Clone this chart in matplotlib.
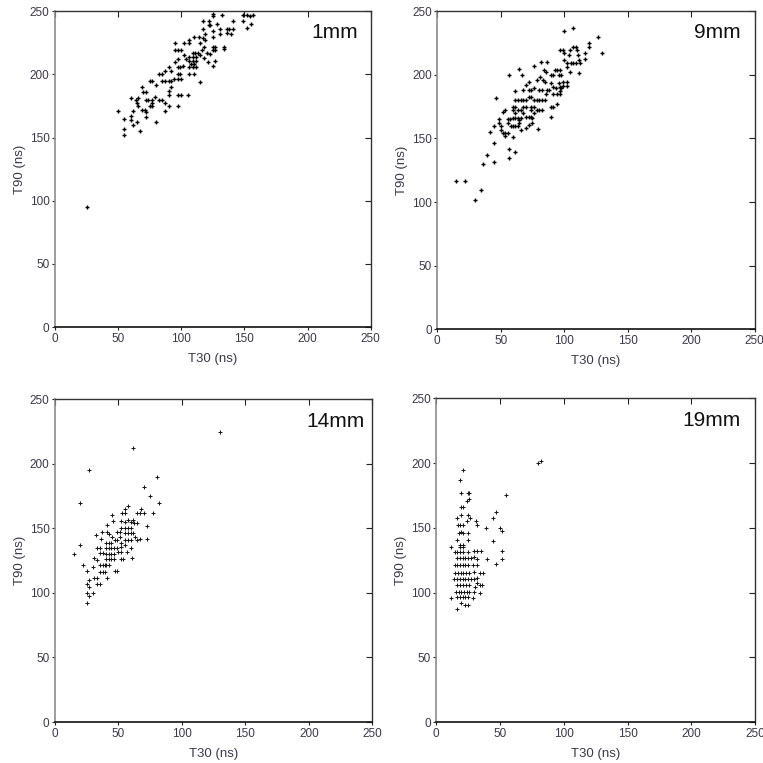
import matplotlib
matplotlib.use("Agg")
import matplotlib.pyplot as plt

plt.rcParams['font.family'] = ['Liberation Sans', 'DejaVu Sans']

# ---- T30 / T90 pulse-timing pairs (ns) for each depth ----
t30_1mm = [25, 50, 55, 55, 55, 60, 60, 60, 62, 62, 64, 66, 65, 65, 66, 67, 69, 70, 72,
           69, 71, 72, 72, 72, 74, 77, 75, 77, 77, 75, 77, 80, 80, 79, 82, 85, 87, 87, 90,
           82, 85, 85, 87, 90, 92, 87, 90, 92, 90, 90, 92, 94, 95, 97, 95, 95, 97, 100,
           97, 99, 97, 99, 97, 100, 97, 100, 105, 97, 101, 102, 102, 106, 106, 106, 109,
           112, 115, 106, 109, 112, 106, 109, 112, 106, 110, 109, 111, 110, 115, 116, 118,
           115, 117, 119, 117, 117, 120, 122, 121, 122, 123, 125, 125, 125, 125, 125, 125,
           127, 127, 125, 127, 128, 131, 131, 132, 134, 134, 136, 138, 141, 136, 139, 141,
           149, 152, 154, 157, 149, 152, 155, 108, 110, 113, 104, 119, 114, 118, 123]
t90_1mm = [95, 171, 165, 157, 152, 181, 167, 164, 171, 160, 180, 181, 162, 177, 175, 155, 190,
           186, 186, 172, 172, 170, 166, 180, 180, 180, 175, 177, 175, 195, 195, 192, 162, 182,
           180, 180, 177, 171, 175, 200, 200, 195, 195, 195, 195, 203, 206, 203, 187, 184,
           190, 196, 210, 212, 225, 219, 219, 219, 206, 206, 200, 200, 196, 196, 184, 184,
           184, 175, 207, 225, 215, 227, 225, 214, 214, 214, 215, 211, 211, 211, 206, 206,
           206, 200, 200, 217, 217, 230, 225, 219, 222, 194, 229, 232, 242, 236, 217, 242,
           210, 239, 239, 248, 246, 234, 230, 222, 219, 222, 219, 207, 211, 240, 236, 232,
           247, 220, 222, 236, 236, 236, 233, 232, 242, 247, 247, 246, 247, 242, 237, 240,
           208, 208, 217, 212, 227, 230, 213, 216]

t30_9mm = [14.7, 21.8, 29.7, 34.7, 36.2, 39.4, 41.5, 44.4, 44.4, 44.4, 46.2, 48.8, 48.8, 50,
           49.9, 51.5, 53.6, 55.4, 53.6, 51.5, 53.6, 56.2, 56.5, 56.5, 55.4, 57.2, 55.4, 58,
           59.3, 61.4, 59.3, 61.4, 59.3, 61.4, 63.5, 65.6, 59.3, 61.4, 63.5, 59.9, 61.2, 63.3,
           61.4, 61.4, 64.6, 64.6, 64.6, 63.5, 65.6, 65.6, 67.8, 69.9, 65.6, 66.7, 67.8, 67.8,
           69.9, 67.8, 69.9, 72, 74, 69.9, 69.9, 72, 72, 74, 76.2, 72, 74, 76.2, 78.3, 72, 74,
           76.2, 74, 76.2, 74.6, 75, 76.2, 79.6, 78.3, 80.9, 79.8, 82.5, 80.4, 82.5, 84.6, 78.3,
           80.4, 82.5, 81.4, 86.1, 83.5, 85, 84, 86, 85.6, 86.1, 88.2, 89.3, 89.3, 91.4, 89.3,
           91.4, 89.8, 91.4, 93.5, 91.4, 94, 96.6, 92.4, 94.5, 96.6, 94, 95.6, 97.7, 95.6,
           96.6, 96.6, 97.7, 96.6, 99.3, 98.7, 98.7, 101.9, 101.9, 99.8, 99.8, 99.8, 101.9,
           101.9, 104.5, 103.5, 104.5, 107, 109.6, 106.6, 105, 107, 109.2, 109.8, 111, 111.3,
           112.4, 111.3, 116, 116.6, 119.2, 119.2, 126.6, 129.7]
t90_9mm = [116.6, 116.6, 101.7, 109.5, 129.7, 136.8, 154.9, 159.8, 146.8, 131.8, 181.9, 165,
           162.5, 160, 156.7, 154.6, 154.6, 154.6, 152, 171, 172.4, 200, 141.8, 134.4, 165, 165,
           162.5, 160, 174.5, 174.5, 172.4, 170, 166.4, 166.4, 166.4, 166.4, 160, 160, 160,
           151.5, 180.3, 180.3, 139.7, 187.6, 204.7, 164.6, 162.5, 172.4, 172.4, 180.3, 180.3,
           180.3, 156.7, 199.7, 188.2, 175, 175, 169.8, 167.2, 167.2, 167.2, 192, 158, 194.7,
           188, 188, 190, 182.9, 182.9, 180.3, 180.3, 160.6, 175, 175, 172.4, 170, 162.5, 166,
           207, 157.2, 196, 198.6, 188.2, 188.2, 180.3, 180.3, 180.3, 172.4, 172.4, 172.4, 210,
           210, 196, 194.7, 204, 202.6, 185, 188.2, 188.2, 167.2, 175, 175, 200, 200, 193.4,
           190.8, 189.5, 185, 185, 185, 203.9, 203.9, 203.9, 177.1, 200, 200, 193.4, 190.8,
           187.6, 189.5, 219.6, 219.6, 194.7, 191.6, 194.7, 191.6, 234.8, 217.5, 211.7, 209.6,
           206.5, 202.6, 215.7, 219.6, 222.2, 222.2, 236.6, 209.6, 209.6, 209.6, 219.6, 215.7,
           211.7, 209.6, 201.3, 217, 212.3, 224.8, 222.2, 230, 217]

t30_14mm = [15, 19.7, 19.7, 22.3, 25.5, 25, 27, 25, 27, 25, 27, 27, 30.2, 30.2, 30.7, 32.8,
            31, 33.3, 32.3, 32.8, 35.4, 33.3, 35.4, 35.4, 37.5, 35.4, 37.5, 39.6, 35.4, 37.5,
            39.6, 36.5, 37, 40.7, 40.2, 42.3, 44.4, 40.2, 42.3, 44.4, 46.5, 48.6, 40.2, 42.3,
            44.4, 46.5, 40.2, 42.3, 44.4, 46.5, 40.2, 42.3, 40.7, 42.3, 40.7, 44.9, 45.4, 44.9,
            47, 49.1, 51.2, 47.3, 49.1, 49.1, 51.2, 49.9, 51.7, 51.7, 51.7, 51.7, 51.7, 51.7,
            53.8, 52.8, 55.4, 55.4, 55.4, 57.5, 59.6, 61.7, 55.4, 57.5, 59.6, 55.4, 57.5, 59.6,
            61.7, 55.4, 57.5, 59.6, 55.4, 56.5, 57.5, 59.6, 60.4, 62.2, 64.3, 63, 64.9, 67,
            64.9, 67, 67.5, 70, 70.1, 72.2, 72.2, 74.8, 77, 80, 82.2, 61.7, 130]
t90_14mm = [130, 170, 137, 122, 117, 106.7, 105, 99.7, 98, 92, 195, 110, 120, 99.7, 126.8,
            125.5, 111.8, 111.8, 145, 106.7, 106.7, 135, 135, 130.7, 130.7, 121.6, 121.6, 121.6,
            116.5, 116.5, 116.5, 141.8, 147, 111.3, 138.4, 138.4, 138.4, 134.6, 134.6, 134.6,
            134.6, 134.6, 130, 130, 130, 130, 126.3, 126.3, 126.3, 126.3, 121.6, 121.6, 147,
            146, 152.6, 160.4, 155.7, 143.6, 141, 141, 143.6, 117, 117, 147, 147, 132, 132,
            138.4, 135.8, 155.7, 150, 126.3, 126.3, 162.2, 165, 162.2, 155.2, 156.5, 155.2,
            156.5, 150, 150, 150, 146.2, 146.2, 146.2, 146.2, 141, 141, 141, 137.1, 132, 167.4,
            135, 127.3, 154, 154, 143.6, 141, 141.8, 162.2, 162.2, 165, 162.2, 181.8, 152,
            141.8, 175, 162.2, 190, 170, 212, 225]

t30_19mm = [11.2, 11.2, 16.5, 16.5, 18.5, 20.6, 19.6, 24.8, 25.9, 24.3, 25.9, 19.1, 20.6, 19.6,
            24.8, 26.4, 17, 18.5, 20.6, 24.3, 31, 31.6, 17.5, 19.6, 21.2, 24.8, 16.5, 18.5, 20.6,
            18.5, 20.6, 24.8, 14.4, 16.5, 18.5, 20.6, 24.8, 29.5, 31.6, 34.7, 16.5, 18.5, 20.6,
            22.6, 24.8, 26.9, 29.5, 32.1, 39.4, 46.8, 51.2, 51.2, 44.7, 44.7, 46.8, 38.9, 49.9,
            51.5, 54.6, 79.7, 82, 14.4, 16.5, 18.5, 20.6, 22.6, 24.8, 29, 31.6, 15, 17, 19.1,
            21.2, 23.2, 25.3, 29.5, 34.2, 36.3, 13.9, 16.5, 18.5, 20.6, 22.6, 24.8, 26.9, 29.5,
            31.6, 34.2, 35.8, 16, 18.5, 21.2, 23.2, 25.3, 30.6, 31.6, 15.5, 17.5, 19.6, 21.7,
            23.8, 25.9, 29.5, 34.2, 16.5, 18.5, 20.6, 22.6, 24.8, 29, 19.6, 22.7, 24.8]
t90_19mm = [135, 95.5, 87, 157.3, 187, 195, 177.1, 177.1, 177.1, 171, 172.2, 165.8, 165.8, 160,
            160, 157.3, 152, 152, 152, 155.3, 155, 152, 145.7, 147, 145.7, 145.7, 140.6, 136.7,
            136.7, 135, 135, 140.6, 131.6, 131.6, 131.6, 131.6, 131.6, 132, 132, 132, 126.4,
            126.4, 126.4, 126.4, 126.4, 126.4, 127.2, 125.6, 125.6, 122, 132, 125.6, 140, 157.3,
            162, 150, 150, 147.5, 175.3, 199.8, 201.9, 121.3, 121.3, 121.3, 121.3, 121.3, 121.3,
            121.3, 121.3, 115.3, 115.3, 115.3, 115.3, 115.3, 115.3, 116.1, 115.3, 115.3, 110.2,
            110.2, 110.2, 110.2, 110.2, 110.2, 110.2, 110.2, 111, 105.8, 105.8, 105.8, 105.8,
            105.8, 105.8, 105.8, 104.5, 107, 100.7, 100.7, 100.7, 100.7, 100.7, 100.7, 100.7,
            100, 96.8, 96.8, 96.8, 96.8, 96.8, 95.5, 91.7, 90.4, 90.4]

panels = [
    ("1mm", t30_1mm, t90_1mm, [0.0721, 0.5714, 0.4138, 0.4138], 0.96, '#000000', 3.0, 1.0),
    ("9mm", t30_9mm, t90_9mm, [0.5731, 0.5684, 0.4160, 0.4168], 0.957, '#000000', 3.0, 1.0),
    ("14mm", t30_14mm, t90_14mm, [0.0721, 0.0537, 0.4159, 0.4229], 0.977, '#1a1a1a', 2.8, 0.75),
    ("19mm", t30_19mm, t90_19mm, [0.5718, 0.0537, 0.4181, 0.4242], 0.955, '#1a1a1a', 2.8, 0.75),
]

ticks = [0, 50, 100, 150, 200, 250]
label_color = '#3c3848'

fig = plt.figure(figsize=(7.63, 7.63), dpi=100)

for name, xs, ys, rect, tx, mcol, ms, mew in panels:
    ax = fig.add_axes(rect)
    ax.plot(xs, ys, linestyle='none', marker='+', markersize=ms,
            markeredgewidth=mew, color=mcol)
    ax.set_xlim(0, 250)
    ax.set_ylim(0, 250)
    ax.set_xticks(ticks)
    ax.set_yticks(ticks)
    ax.tick_params(axis='both', which='major', labelsize=8.5, colors='#222222',
                   labelcolor=label_color, length=2.5, width=0.8, pad=1.5)
    ax.tick_params(axis='x', top=True, direction='out', labeltop=False)
    ax.tick_params(axis='y', right=True, direction='out')
    for t in ax.xaxis.get_major_ticks():
        t.tick2line.set_marker(3)  # top ticks point down into the plot
        t.tick2line.set_markersize(4)
    for t in ax.yaxis.get_major_ticks():
        t.tick2line.set_marker(0)  # right ticks point left into the plot
        t.tick2line.set_markersize(4)
    ax.spines['left'].set_color('#8c8c8c')
    ax.spines['left'].set_linewidth(1.2)
    ax.spines['bottom'].set_color('#111111')
    ax.spines['bottom'].set_linewidth(1.2)
    ax.spines['top'].set_color('#333333')
    ax.spines['top'].set_linewidth(1.0)
    ax.spines['right'].set_color('#333333')
    ax.spines['right'].set_linewidth(1.0)
    ax.set_xlabel("T30 (ns)", fontsize=9.5, color=label_color, labelpad=6)
    ax.set_ylabel("T90 (ns)", fontsize=9.5, color=label_color, labelpad=2.5)
    ax.text(tx, 0.932, name, transform=ax.transAxes, ha='right', va='center',
            fontsize=15, color='#111111')

fig.savefig("out.png", dpi=100)
